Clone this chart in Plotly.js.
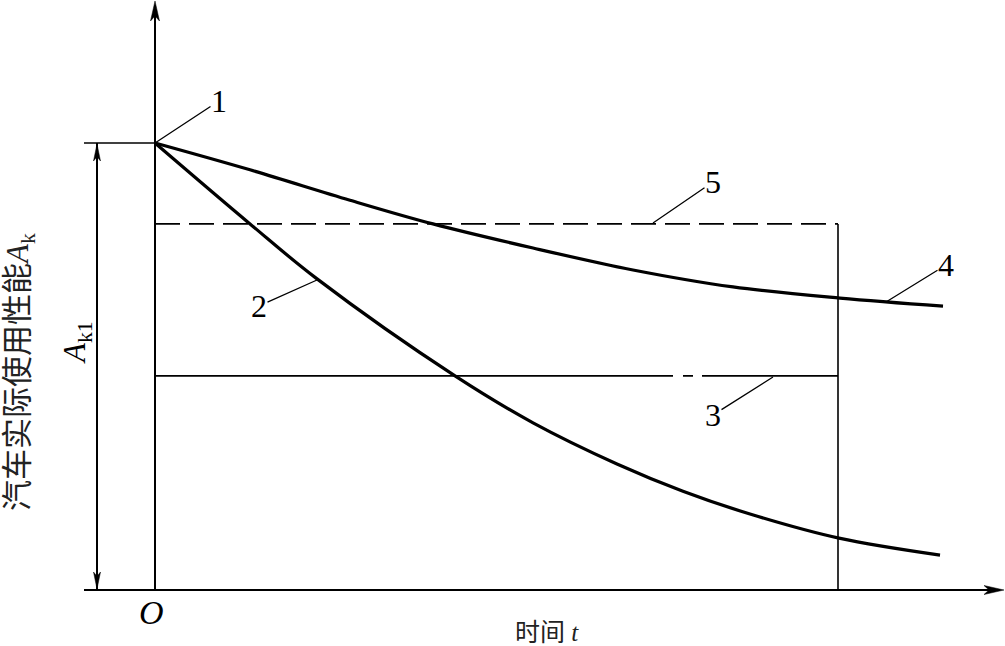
<!DOCTYPE html>
<html>
<head>
<meta charset="utf-8">
<script src="https://cdn.plot.ly/plotly-3.0.1.min.js"></script>
<style>html,body{margin:0;padding:0;background:#fff;}#chart{width:1005px;height:646px;}</style>
</head>
<body>
<div id="chart"></div>
<script>
// ---- data (t: time in relative units, A: performance, A_k = 100) ----
const curve2T = [0, 1.113, 1.898, 3.514, 4.428, 5.411, 6.184, 6.969, 8.012, 9.195];
const curve2A = [100, 81.9, 69.6, 47.9, 37.4, 28.2, 22.1, 17.0, 11.6, 7.8];
const curve4T = [0, 1.113, 2.284, 3.256, 4.428, 5.599, 6.770, 8.023, 9.230];
const curve4A = [100, 94.0, 87.2, 81.9, 76.5, 71.6, 67.8, 65.3, 63.5];
const levelAk = 100;      // initial performance A_k (point 1)
const level5 = 81.9;      // line 5 (dashed)
const level3 = 47.9;      // line 3 (dash-dot)
const tEnd = 8;           // end of period (vertical line)
const labels = ["1", "2", "3", "4", "5"];
const yTitle = "汽车实际使用性能<i>A</i><sub>k</sub>";
const xTitle = "时间 <i>t</i>";
const dimLabel = "<i>A</i><sub>k1</sub>";

// ---- pixel helpers for layout (positions only) ----
const W = 1005, H = 646;
const X0 = 155, PXT = 85.375, Y0 = 590, PXA = 4.47;
const tx = px => (px - X0) / PXT;
const ay = py => (Y0 - py) / PXA;

const black = '#000';
const serif = 'Liberation Serif, Times New Roman, serif';
const cjk = 'Liberation Serif, Noto Sans CJK SC, serif';

const traces = [
  {x: curve2T, y: curve2A, mode: 'lines', line: {color: black, width: 3.2, shape: 'spline', smoothing: 1}},
  {x: curve4T, y: curve4A, mode: 'lines', line: {color: black, width: 3.2, shape: 'spline', smoothing: 1}},
  {x: [0, tEnd], y: [level5, level5], mode: 'lines', line: {color: black, width: 1.6, dash: '25px,9px'}},
  {x: [0, tEnd], y: [level3, level3], mode: 'lines', line: {color: black, width: 1.6, dash: '518px,10px,10px,9px,300px'}},
  {x: [tEnd, tEnd], y: [level5, 0], mode: 'lines', line: {color: black, width: 1.6}}
];

function line(x0, y0, x1, y1, w) {
  return {type: 'line', xref: 'x', yref: 'y', x0: x0, y0: y0, x1: x1, y1: y1, line: {color: black, width: w}};
}
function arrowHead(tipX, tipY, dirX, dirY, len, hw) {
  const bx = tipX - dirX * len, by = tipY - dirY * len;
  const nx = -dirY, ny = dirX;
  const mx = tipX - dirX * len * 0.75, my = tipY - dirY * len * 0.75;
  const p = [[tipX, tipY], [bx + nx * hw, by + ny * hw], [mx, my], [bx - nx * hw, by - ny * hw]];
  return {type: 'path', xref: 'x', yref: 'y', fillcolor: black, line: {color: black, width: 0.5},
    path: 'M' + p.map(q => tx(q[0]) + ',' + ay(q[1])).join('L') + 'Z'};
}

const shapes = [
  line(tx(84), 0, tx(996), 0, 2),            // x axis
  line(0, 0, 0, ay(8), 2),                   // y axis
  line(tx(84), levelAk, 0, levelAk, 1.6),    // A_k reference line
  line(tx(97), levelAk, tx(97), 0, 2),       // dimension line A_k1
  arrowHead(1004, 590, 1, 0, 20, 4.5),
  arrowHead(155, 1, 0, -1, 20, 4.5),
  arrowHead(97, 144, 0, -1, 17, 3.5),
  arrowHead(97, 589, 0, 1, 17, 3.5)
];

function leader(text, px, py, lx, ly) {
  return {x: tx(px), y: ay(py), xref: 'x', yref: 'y', text: text, showarrow: true, arrowhead: 0,
    arrowwidth: 1.3, arrowcolor: black, ax: lx - px, ay: ly - py,
    font: {family: serif, size: 32, color: black}, borderpad: 0};
}

const annotations = [
  leader(labels[0], 155, 143, 219, 101),
  leader(labels[1], 317, 280, 259, 306),
  leader(labels[2], 773, 377, 713, 415),
  leader(labels[3], 886, 302, 946, 265),
  leader(labels[4], 653, 223, 713, 182),
  {x: tx(20), y: ay(372), xref: 'x', yref: 'y', text: yTitle, showarrow: false, textangle: -90,
    font: {family: cjk, size: 31, color: '#222'}},
  {x: tx(77), y: ay(343), xref: 'x', yref: 'y', text: dimLabel, showarrow: false, textangle: -90,
    font: {family: serif, size: 31, color: black}},
  {x: tx(547), y: ay(632), xref: 'x', yref: 'y', text: xTitle, showarrow: false,
    font: {family: cjk, size: 25, color: '#222'}},
  {x: tx(151), y: ay(612), xref: 'x', yref: 'y', text: '<i>O</i>', showarrow: false,
    font: {family: serif, size: 34, color: black}}
];

const layout = {
  width: W, height: H,
  margin: {l: 0, r: 0, t: 0, b: 0},
  paper_bgcolor: '#fff', plot_bgcolor: '#fff',
  showlegend: false,
  xaxis: {range: [tx(0), tx(W)], visible: false, fixedrange: true},
  yaxis: {range: [ay(H), ay(0)], visible: false, fixedrange: true},
  shapes: shapes,
  annotations: annotations
};

Plotly.newPlot('chart', traces, layout, {staticPlot: true, displayModeBar: false});
</script>
</body>
</html>
